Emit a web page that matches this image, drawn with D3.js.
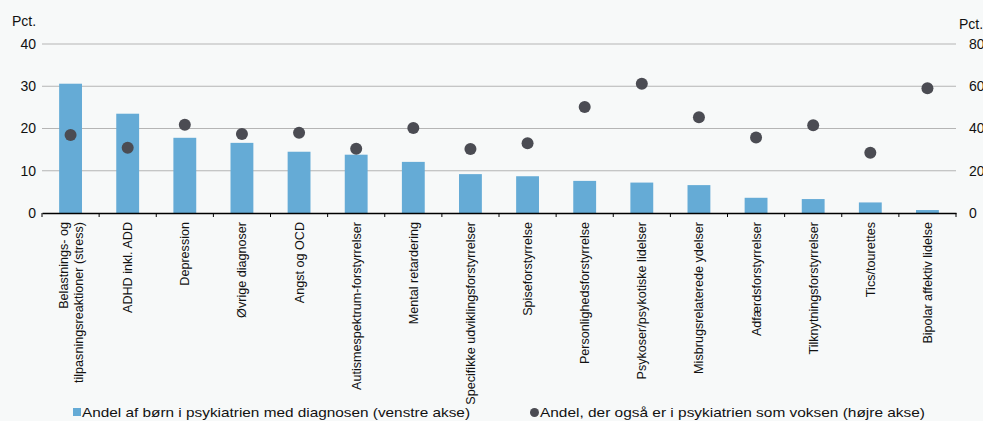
<!DOCTYPE html>
<html><head><meta charset="utf-8">
<script src="https://cdn.jsdelivr.net/npm/d3@7"></script>
<style>
html,body{margin:0;padding:0;background:#f7f9f9;}
svg{display:block;font-family:"Liberation Sans",Arial,sans-serif;}
</style></head>
<body>
<svg id="chart" width="983" height="421"></svg>
<script>
const categories = [
  ["Belastnings- og","tilpasningsreaktioner (stress)"],
  ["ADHD inkl. ADD"],
  ["Depression"],
  ["Øvrige diagnoser"],
  ["Angst og OCD"],
  ["Autismespektrum-forstyrrelser"],
  ["Mental retardering"],
  ["Specifikke udviklingsforstyrrelser"],
  ["Spiseforstyrrelse"],
  ["Personlighedsforstyrrelse"],
  ["Psykoser/psykotiske lidelser"],
  ["Misbrugsrelaterede ydelser"],
  ["Adfærdsforstyrrelser"],
  ["Tilknytningsforstyrrelser"],
  ["Tics/tourettes"],
  ["Bipolar affektiv lidelse"]
];
const barValues = [30.6, 23.5, 17.8, 16.6, 14.5, 13.8, 12.1, 9.2, 8.7, 7.6, 7.2, 6.6, 3.6, 3.3, 2.5, 0.7];
const dotValues = [36.9, 30.9, 41.8, 37.4, 38.0, 30.4, 40.2, 30.3, 33.0, 50.2, 61.2, 45.3, 35.7, 41.5, 28.5, 59.0];
const leftTicks = [0, 10, 20, 30, 40];
const rightTicks = [0, 20, 40, 60, 80];
const unitLabel = "Pct.";
const legendLabels = ["Andel af børn i psykiatrien med diagnosen (venstre akse)", "Andel, der også er i psykiatrien som voksen (højre akse)"];

const svg = d3.select("#chart");
const m = {left: 42, right: 956, top: 44, bottom: 213};
const idx = d3.range(categories.length);
const x = d3.scaleBand().domain(idx).range([m.left, m.right]).paddingInner(0).paddingOuter(0);
const yL = d3.scaleLinear().domain([0, 40]).range([m.bottom, m.top]);
const yR = d3.scaleLinear().domain([0, 80]).range([m.bottom, m.top]);

const barColor = "#65abd6";
const dotColor = "#4b4c53";

// gridlines
svg.append("g").selectAll("line").data(leftTicks.filter(d => d > 0)).join("line")
  .attr("x1", m.left).attr("x2", m.right)
  .attr("y1", d => yL(d)).attr("y2", d => yL(d))
  .attr("stroke", "#b5b5b5").attr("stroke-width", 1);

// bars
const bw = x.bandwidth() * 0.4;
svg.append("g").selectAll("rect").data(barValues).join("rect")
  .attr("x", (d, i) => x(i) + x.bandwidth() / 2 - bw / 2)
  .attr("width", bw)
  .attr("y", d => yL(d))
  .attr("height", d => yL(0) - yL(d))
  .attr("fill", barColor);

// baseline axis
const xAxis = d3.axisBottom(x).tickSize(0).tickFormat("");
const gx = svg.append("g").attr("transform", `translate(0,${m.bottom})`).call(xAxis);
gx.select(".domain").attr("stroke", "#000").attr("stroke-width", 1.3);
const bounds = d3.range(categories.length + 1).map(i => m.left + i * x.step());
gx.selectAll(".bt").data(bounds).join("line").attr("class", "bt")
  .attr("x1", d => d).attr("x2", d => d).attr("y1", 0).attr("y2", 4)
  .attr("stroke", "#000").attr("stroke-width", 1);

// dots
svg.append("g").selectAll("circle").data(dotValues).join("circle")
  .attr("cx", (d, i) => x(i) + x.bandwidth() / 2)
  .attr("cy", d => yR(d))
  .attr("r", 6)
  .attr("fill", dotColor);

// left axis labels
const gl = svg.append("g").attr("transform", `translate(${m.left},0)`)
  .call(d3.axisLeft(yL).tickValues(leftTicks).tickSize(0).tickPadding(6));
gl.select(".domain").remove();
gl.selectAll("text").attr("font-size", 14).attr("fill", "#111").attr("font-family", "Liberation Sans, Arial, sans-serif");

// right axis labels
const gr = svg.append("g").attr("transform", `translate(${m.right},0)`)
  .call(d3.axisRight(yR).tickValues(rightTicks).tickSize(0).tickPadding(13));
gr.select(".domain").remove();
gr.selectAll("text").attr("font-size", 14).attr("fill", "#111").attr("font-family", "Liberation Sans, Arial, sans-serif");

svg.append("text").attr("x", 12).attr("y", 26).attr("font-size", 14).attr("fill", "#111").text(unitLabel);
svg.append("text").attr("x", 959).attr("y", 29).attr("font-size", 14).attr("fill", "#111").text(unitLabel);

// category labels
const cl = svg.append("g");
categories.forEach((lines, i) => {
  const cx = x(i) + x.bandwidth() / 2;
  const n = lines.length;
  const t = cl.append("text")
    .attr("transform", `translate(${cx},222) rotate(-90)`)
    .attr("text-anchor", "end")
    .attr("font-size", 12.6).attr("fill", "#111");
  lines.forEach((ln, j) => {
    t.append("tspan").attr("x", 0)
      .attr("y", (j - (n - 1) / 2) * 15 + 4.5)
      .text(ln);
  });
});

// legend
const lg = svg.append("g").attr("font-size", 13).attr("fill", "#111");
lg.append("rect").attr("x", 73).attr("y", 408).attr("width", 8).attr("height", 8).attr("fill", barColor);
lg.append("text").attr("x", 82).attr("y", 417).text(legendLabels[0]).attr("textLength", 388).attr("lengthAdjust", "spacingAndGlyphs");
lg.append("circle").attr("cx", 534.5).attr("cy", 412.5).attr("r", 4.5).attr("fill", dotColor);
lg.append("text").attr("x", 540).attr("y", 417).text(legendLabels[1]).attr("textLength", 385).attr("lengthAdjust", "spacingAndGlyphs");
</script>
</body></html>
